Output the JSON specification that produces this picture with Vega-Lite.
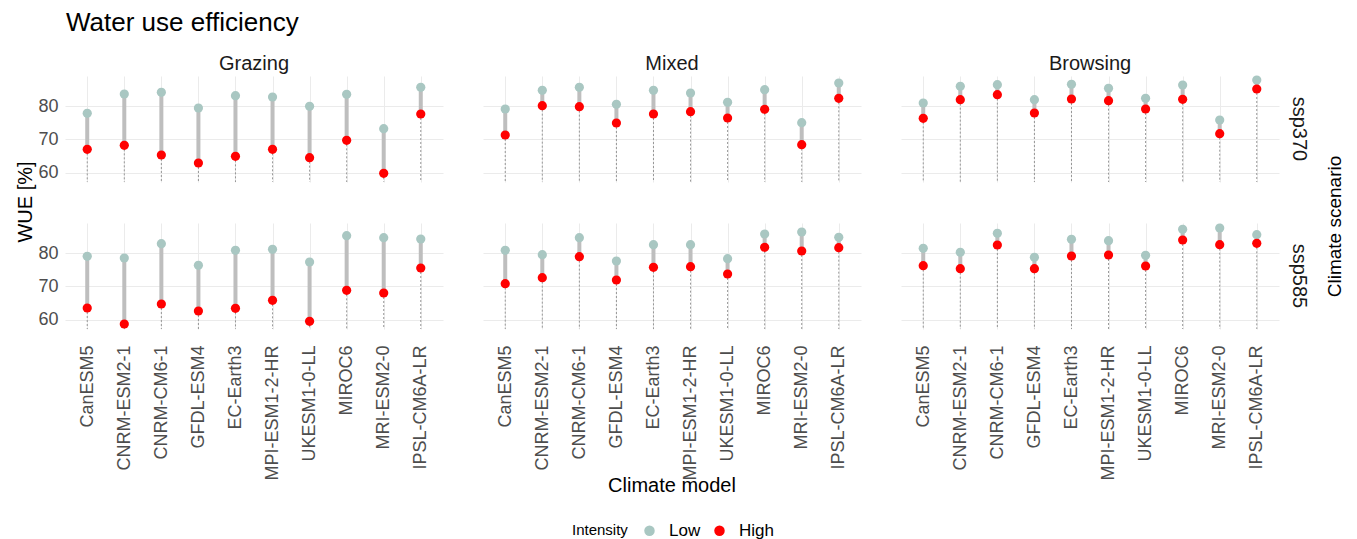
{
  "$schema": "https://vega.github.io/schema/vega-lite/v6.json",
  "padding": {"left": 15, "top": 10, "right": 4, "bottom": 4},
  "background": "white",
  "title": {"text": "Climate scenario", "orient": "right", "anchor": "middle", "angle": -90, "baseline": "top", "fontSize": 19, "fontWeight": "normal", "font": "Liberation Sans", "color": "#000000", "offset": -2, "dx": 48},
  "vconcat": [{
  "title": {"text": "Water use efficiency", "anchor": "start", "fontSize": 26, "fontWeight": "normal", "font": "Liberation Sans", "color": "#000000", "offset": 18, "dx": 50},
  "data": {"values": [
    {"model": "CanESM5", "strategy": "Grazing", "scenario": "ssp370", "Low": 77.8, "High": 67.0},
    {"model": "CNRM-ESM2-1", "strategy": "Grazing", "scenario": "ssp370", "Low": 83.6, "High": 68.2},
    {"model": "CNRM-CM6-1", "strategy": "Grazing", "scenario": "ssp370", "Low": 84.1, "High": 65.3},
    {"model": "GFDL-ESM4", "strategy": "Grazing", "scenario": "ssp370", "Low": 79.4, "High": 62.9},
    {"model": "EC-Earth3", "strategy": "Grazing", "scenario": "ssp370", "Low": 83.1, "High": 64.9},
    {"model": "MPI-ESM1-2-HR", "strategy": "Grazing", "scenario": "ssp370", "Low": 82.7, "High": 67.0},
    {"model": "UKESM1-0-LL", "strategy": "Grazing", "scenario": "ssp370", "Low": 79.9, "High": 64.5},
    {"model": "MIROC6", "strategy": "Grazing", "scenario": "ssp370", "Low": 83.5, "High": 69.7},
    {"model": "MRI-ESM2-0", "strategy": "Grazing", "scenario": "ssp370", "Low": 73.2, "High": 59.8},
    {"model": "IPSL-CM6A-LR", "strategy": "Grazing", "scenario": "ssp370", "Low": 85.6, "High": 77.6},
    {"model": "CanESM5", "strategy": "Mixed", "scenario": "ssp370", "Low": 79.1, "High": 71.3},
    {"model": "CNRM-ESM2-1", "strategy": "Mixed", "scenario": "ssp370", "Low": 84.7, "High": 80.1},
    {"model": "CNRM-CM6-1", "strategy": "Mixed", "scenario": "ssp370", "Low": 85.6, "High": 79.8},
    {"model": "GFDL-ESM4", "strategy": "Mixed", "scenario": "ssp370", "Low": 80.5, "High": 74.9},
    {"model": "EC-Earth3", "strategy": "Mixed", "scenario": "ssp370", "Low": 84.7, "High": 77.6},
    {"model": "MPI-ESM1-2-HR", "strategy": "Mixed", "scenario": "ssp370", "Low": 83.9, "High": 78.3},
    {"model": "UKESM1-0-LL", "strategy": "Mixed", "scenario": "ssp370", "Low": 81.1, "High": 76.4},
    {"model": "MIROC6", "strategy": "Mixed", "scenario": "ssp370", "Low": 84.9, "High": 79.0},
    {"model": "MRI-ESM2-0", "strategy": "Mixed", "scenario": "ssp370", "Low": 75.0, "High": 68.4},
    {"model": "IPSL-CM6A-LR", "strategy": "Mixed", "scenario": "ssp370", "Low": 86.9, "High": 82.3},
    {"model": "CanESM5", "strategy": "Browsing", "scenario": "ssp370", "Low": 80.9, "High": 76.3},
    {"model": "CNRM-ESM2-1", "strategy": "Browsing", "scenario": "ssp370", "Low": 85.9, "High": 81.9},
    {"model": "CNRM-CM6-1", "strategy": "Browsing", "scenario": "ssp370", "Low": 86.4, "High": 83.4},
    {"model": "GFDL-ESM4", "strategy": "Browsing", "scenario": "ssp370", "Low": 81.9, "High": 77.9},
    {"model": "EC-Earth3", "strategy": "Browsing", "scenario": "ssp370", "Low": 86.5, "High": 82.1},
    {"model": "MPI-ESM1-2-HR", "strategy": "Browsing", "scenario": "ssp370", "Low": 85.3, "High": 81.6},
    {"model": "UKESM1-0-LL", "strategy": "Browsing", "scenario": "ssp370", "Low": 82.3, "High": 79.1},
    {"model": "MIROC6", "strategy": "Browsing", "scenario": "ssp370", "Low": 86.3, "High": 82.0},
    {"model": "MRI-ESM2-0", "strategy": "Browsing", "scenario": "ssp370", "Low": 75.8, "High": 71.7},
    {"model": "IPSL-CM6A-LR", "strategy": "Browsing", "scenario": "ssp370", "Low": 87.8, "High": 85.1},
    {"model": "CanESM5", "strategy": "Grazing", "scenario": "ssp585", "Low": 79.0, "High": 63.5},
    {"model": "CNRM-ESM2-1", "strategy": "Grazing", "scenario": "ssp585", "Low": 78.5, "High": 58.7},
    {"model": "CNRM-CM6-1", "strategy": "Grazing", "scenario": "ssp585", "Low": 82.8, "High": 64.7},
    {"model": "GFDL-ESM4", "strategy": "Grazing", "scenario": "ssp585", "Low": 76.3, "High": 62.6},
    {"model": "EC-Earth3", "strategy": "Grazing", "scenario": "ssp585", "Low": 80.8, "High": 63.4},
    {"model": "MPI-ESM1-2-HR", "strategy": "Grazing", "scenario": "ssp585", "Low": 81.1, "High": 65.8},
    {"model": "UKESM1-0-LL", "strategy": "Grazing", "scenario": "ssp585", "Low": 77.3, "High": 59.5},
    {"model": "MIROC6", "strategy": "Grazing", "scenario": "ssp585", "Low": 85.2, "High": 68.8},
    {"model": "MRI-ESM2-0", "strategy": "Grazing", "scenario": "ssp585", "Low": 84.6, "High": 68.0},
    {"model": "IPSL-CM6A-LR", "strategy": "Grazing", "scenario": "ssp585", "Low": 84.2, "High": 75.5},
    {"model": "CanESM5", "strategy": "Mixed", "scenario": "ssp585", "Low": 80.8, "High": 70.8},
    {"model": "CNRM-ESM2-1", "strategy": "Mixed", "scenario": "ssp585", "Low": 79.5, "High": 72.6},
    {"model": "CNRM-CM6-1", "strategy": "Mixed", "scenario": "ssp585", "Low": 84.6, "High": 78.9},
    {"model": "GFDL-ESM4", "strategy": "Mixed", "scenario": "ssp585", "Low": 77.6, "High": 71.9},
    {"model": "EC-Earth3", "strategy": "Mixed", "scenario": "ssp585", "Low": 82.5, "High": 75.7},
    {"model": "MPI-ESM1-2-HR", "strategy": "Mixed", "scenario": "ssp585", "Low": 82.5, "High": 75.9},
    {"model": "UKESM1-0-LL", "strategy": "Mixed", "scenario": "ssp585", "Low": 78.3, "High": 73.7},
    {"model": "MIROC6", "strategy": "Mixed", "scenario": "ssp585", "Low": 85.7, "High": 81.7},
    {"model": "MRI-ESM2-0", "strategy": "Mixed", "scenario": "ssp585", "Low": 86.3, "High": 80.6},
    {"model": "IPSL-CM6A-LR", "strategy": "Mixed", "scenario": "ssp585", "Low": 84.7, "High": 81.6},
    {"model": "CanESM5", "strategy": "Browsing", "scenario": "ssp585", "Low": 81.4, "High": 76.2},
    {"model": "CNRM-ESM2-1", "strategy": "Browsing", "scenario": "ssp585", "Low": 80.2, "High": 75.3},
    {"model": "CNRM-CM6-1", "strategy": "Browsing", "scenario": "ssp585", "Low": 85.9, "High": 82.4},
    {"model": "GFDL-ESM4", "strategy": "Browsing", "scenario": "ssp585", "Low": 78.7, "High": 75.3},
    {"model": "EC-Earth3", "strategy": "Browsing", "scenario": "ssp585", "Low": 84.1, "High": 79.1},
    {"model": "MPI-ESM1-2-HR", "strategy": "Browsing", "scenario": "ssp585", "Low": 83.7, "High": 79.4},
    {"model": "UKESM1-0-LL", "strategy": "Browsing", "scenario": "ssp585", "Low": 79.3, "High": 76.1},
    {"model": "MIROC6", "strategy": "Browsing", "scenario": "ssp585", "Low": 87.1, "High": 83.9},
    {"model": "MRI-ESM2-0", "strategy": "Browsing", "scenario": "ssp585", "Low": 87.5, "High": 82.5},
    {"model": "IPSL-CM6A-LR", "strategy": "Browsing", "scenario": "ssp585", "Low": 85.5, "High": 82.9}
  ]},
  "facet": {
    "row": {"field": "scenario", "type": "nominal", "sort": ["ssp370", "ssp585"],
      "header": {"title": "WUE [%]", "titleOrient": "left", "labelOrient": "right", "labelAngle": 90, "titleAngle": -90,
        "labelFontSize": 20, "titleFontSize": 20, "labelFont": "Liberation Sans", "titleFont": "Liberation Sans", "titleFontWeight": "normal",
        "labelColor": "#1a1a1a", "titleColor": "#000000", "labelPadding": 0, "titlePadding": -29, "labelAlign": "center", "labelBaseline": "middle"}},
    "column": {"field": "strategy", "type": "nominal", "sort": ["Grazing", "Mixed", "Browsing"],
      "header": {"title": "Climate model", "titleOrient": "bottom", "labelOrient": "top", "titleFontSize": 20, "titleFont": "Liberation Sans", "titleFontWeight": "normal", "titleColor": "#000000", "titlePadding": -15,
        "labelFontSize": 20, "labelFont": "Liberation Sans", "labelColor": "#1a1a1a", "labelPadding": 1}}
  },
  "spacing": {"row": 40, "column": 40},
  "spec": {
    "width": 378,
    "height": 106,
    "encoding": {
      "x": {"field": "model", "type": "nominal", "title": null,
        "sort": ["CanESM5", "CNRM-ESM2-1", "CNRM-CM6-1", "GFDL-ESM4", "EC-Earth3", "MPI-ESM1-2-HR", "UKESM1-0-LL", "MIROC6", "MRI-ESM2-0", "IPSL-CM6A-LR"],
        "scale": {"type": "point", "padding": 0.6},
        "axis": {"labelAngle": -90, "labelAlign": "right", "labelBaseline": "middle", "labelPadding": 15, "grid": true}}
    },
    "layer": [
      {"mark": {"type": "rule", "strokeDash": [2, 2], "color": "#7f7f7f", "strokeWidth": 0.8},
        "encoding": {
          "y": {"field": "High", "type": "quantitative", "title": null,
            "scale": {"domain": [57.2, 89], "nice": false, "zero": false},
            "axis": {"values": [60, 65, 70, 75, 80, 85], "labelExpr": "datum.value % 10 == 0 ? datum.label : ''"}},
          "y2": {"datum": 57.2}
        }},
      {"mark": {"type": "rule", "color": "#bebebe", "strokeWidth": 4},
        "encoding": {
          "y": {"field": "Low", "type": "quantitative", "title": null},
          "y2": {"field": "High"}
        }},
      {"transform": [{"fold": ["Low", "High"], "as": ["Intensity", "WUE"]}],
        "mark": {"type": "circle", "size": 85, "opacity": 1},
        "encoding": {
          "y": {"field": "WUE", "type": "quantitative", "title": null},
          "color": {"field": "Intensity", "type": "nominal",
            "scale": {"domain": ["Low", "High"], "range": ["#a9c7c2", "#ff0000"]},
            "legend": {"orient": "none", "legendX": 507, "legendY": 446, "direction": "horizontal", "titleOrient": "left", "title": "Intensity",
              "titleFontSize": 15, "labelFontSize": 17, "titleFont": "Liberation Sans", "labelFont": "Liberation Sans",
              "titleFontWeight": "normal", "titleColor": "#000000", "labelColor": "#000000", "symbolSize": 110, "symbolType": "circle",
              "symbolStrokeWidth": 0, "columnPadding": 10, "titlePadding": 13, "labelOffset": 11}}
        }}
    ]
  }
  }],
  "config": {
    "view": {"stroke": null},
    "font": "Liberation Sans",
    "axis": {"domain": false, "ticks": false, "gridColor": "#ebebeb", "gridWidth": 1,
      "labelFontSize": 18, "labelColor": "#4d4d4d", "labelFont": "Liberation Sans",
      "titleFontSize": 20, "titleFontWeight": "normal", "titleColor": "#000000", "titleFont": "Liberation Sans"},
    "axisY": {"labelPadding": 7}
  }
}
